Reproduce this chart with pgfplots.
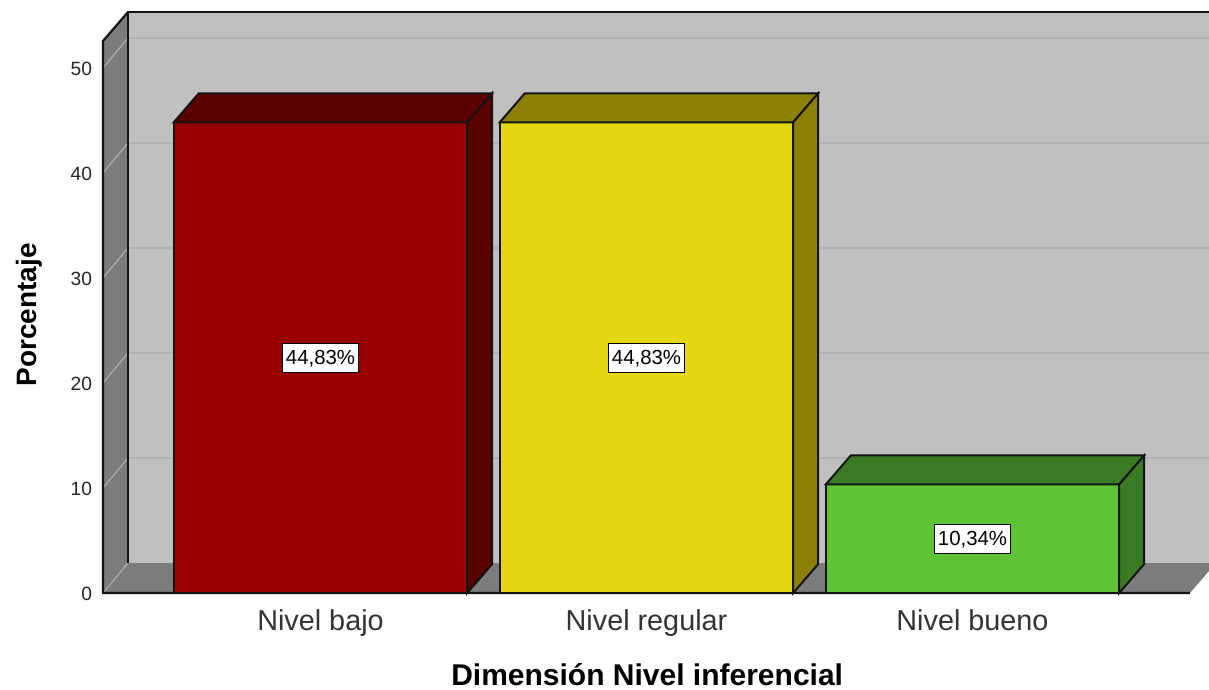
\documentclass[border=0pt]{standalone}
\usepackage{fontspec}
\setmainfont{Liberation Sans}
\usepackage{pgfplots}
\pgfplotsset{compat=1.18}
\definecolor{wallback}{HTML}{C0C0C0}
\definecolor{wallside}{HTML}{7C7C7C}
\definecolor{gridback}{HTML}{B2B2B2}
\definecolor{gridside}{HTML}{A8A8A8}
\definecolor{edge}{HTML}{141414}
\definecolor{redfront}{HTML}{990000}
\definecolor{reddark}{HTML}{5A0000}
\definecolor{yelfront}{HTML}{E5D810}
\definecolor{yeldark}{HTML}{8C8008}
\definecolor{grnfront}{HTML}{5DC435}
\definecolor{grndark}{HTML}{3B7A24}

\begin{document}
\begin{tikzpicture}
\begin{axis}[
  scale only axis,
  width=553pt,
  height=296.5pt,
  xmin=-0.6672, xmax=2.7255,
  ymin=0, ymax=56.476,
  clip=false,
  unbounded coords=jump,
  axis line style={draw=none},
  major tick length=0pt,
  xtick={0,1,2},
  xticklabels={Nivel bajo,Nivel regular,Nivel bueno},
  ytick={0,10,20,30,40,50},
  /pgf/number format/assume math mode=true,
  x tick label style={font=\fontsize{14.4}{16}\selectfont,color=black!80,anchor=center,
    text height=10.5pt,text depth=3pt,yshift=-15pt},
  y tick label style={font=\fontsize{9.6}{11}\selectfont,color=black!85,anchor=east,xshift=-2pt,yshift=-0.4pt},
  every axis x label/.style={at={(rel axis cs:0.492,-0.138)},anchor=center},
  every axis y label/.style={at={(rel axis cs:-0.0665,0.469)},anchor=center,rotate=90},
  xlabel={\fontsize{15}{17}\selectfont\bfseries Dimensión Nivel inferencial},
  ylabel={\fontsize{14}{16}\selectfont\bfseries Porcentaje},
]
% walls and floor
\addplot[fill=wallback,draw=none] coordinates {(-0.5905,2.857)(2.7255,2.857)(2.7255,55.33)(-0.5905,55.33)} -- cycle;
\addplot[fill=wallside,draw=none] coordinates {(-0.6672,0)(-0.5905,2.857)(-0.5905,55.33)(-0.6672,52.57)} -- cycle;
\addplot[fill=wallside,draw=none] coordinates {(-0.6672,0)(2.667,0)(2.7255,2.1)(2.7255,2.857)(-0.5905,2.857)} -- cycle;
% gridlines
\addplot[gridback,line width=0.8pt] coordinates {
  (-0.5905,12.857)(2.7255,12.857)(2.7255,nan)
  (-0.5905,22.857)(2.7255,22.857)(2.7255,nan)
  (-0.5905,32.857)(2.7255,32.857)(2.7255,nan)
  (-0.5905,42.857)(2.7255,42.857)(2.7255,nan)
  (-0.5905,52.857)(2.7255,52.857)};
\addplot[gridside,line width=0.7pt] coordinates {
  (-0.6672,0)(-0.5905,2.857)(-0.5905,nan)
  (-0.6672,10)(-0.5905,12.857)(-0.5905,nan)
  (-0.6672,20)(-0.5905,22.857)(-0.5905,nan)
  (-0.6672,30)(-0.5905,32.857)(-0.5905,nan)
  (-0.6672,40)(-0.5905,42.857)(-0.5905,nan)
  (-0.6672,50)(-0.5905,52.857)};
% wall outlines
\addplot[edge,line width=1.1pt] coordinates {(2.7255,55.33)(-0.5905,55.33)(-0.5905,2.857)};
\addplot[edge,line width=1.1pt] coordinates {(-0.5905,55.33)(-0.6672,52.57)(-0.6672,0)(2.667,0)};
% red bar
\addplot[ybar,bar width=0.9,bar shift=0pt,fill=redfront,draw=edge,line width=1pt] coordinates {(0,44.83)};
\addplot[fill=reddark,draw=edge,line width=1pt] coordinates {(-0.45,44.83)(0.45,44.83)(0.5267,47.59)(-0.3733,47.59)} -- cycle;
\addplot[fill=reddark,draw=edge,line width=1pt] coordinates {(0.45,0)(0.45,44.83)(0.5267,47.59)(0.5267,2.76)} -- cycle;
% yellow bar
\addplot[ybar,bar width=0.9,bar shift=0pt,fill=yelfront,draw=edge,line width=1pt] coordinates {(1,44.83)};
\addplot[fill=yeldark,draw=edge,line width=1pt] coordinates {(0.55,44.83)(1.45,44.83)(1.5267,47.59)(0.6267,47.59)} -- cycle;
\addplot[fill=yeldark,draw=edge,line width=1pt] coordinates {(1.45,0)(1.45,44.83)(1.5267,47.59)(1.5267,2.76)} -- cycle;
% green bar
\addplot[ybar,bar width=0.9,bar shift=0pt,fill=grnfront,draw=edge,line width=1pt] coordinates {(2,10.34)};
\addplot[fill=grndark,draw=edge,line width=1pt] coordinates {(1.55,10.34)(2.45,10.34)(2.5267,13.1)(1.6267,13.1)} -- cycle;
\addplot[fill=grndark,draw=edge,line width=1pt] coordinates {(2.45,0)(2.45,10.34)(2.5267,13.1)(2.5267,2.76)} -- cycle;
% value boxes
\addplot[
  only marks,mark=none,
  point meta=explicit symbolic,
  nodes near coords,
  every node near coord/.style={anchor=center,fill=white,draw=black,line width=0.5pt,
    font=\fontsize{10.2}{12}\selectfont,text=black,inner xsep=1.5pt,inner ysep=3pt,
    text height=7.4pt,text depth=1.2pt},
] table[meta=lab,row sep=\\] {
  x y lab\\
  0 22.38 44,83\%\\
  1 22.38 44,83\%\\
  2 5.14 10,34\%\\
};
\end{axis}
\pgfresetboundingbox
\path (-51.5pt,-48.5pt) rectangle (553pt,296.5pt);
\end{tikzpicture}
\end{document}
